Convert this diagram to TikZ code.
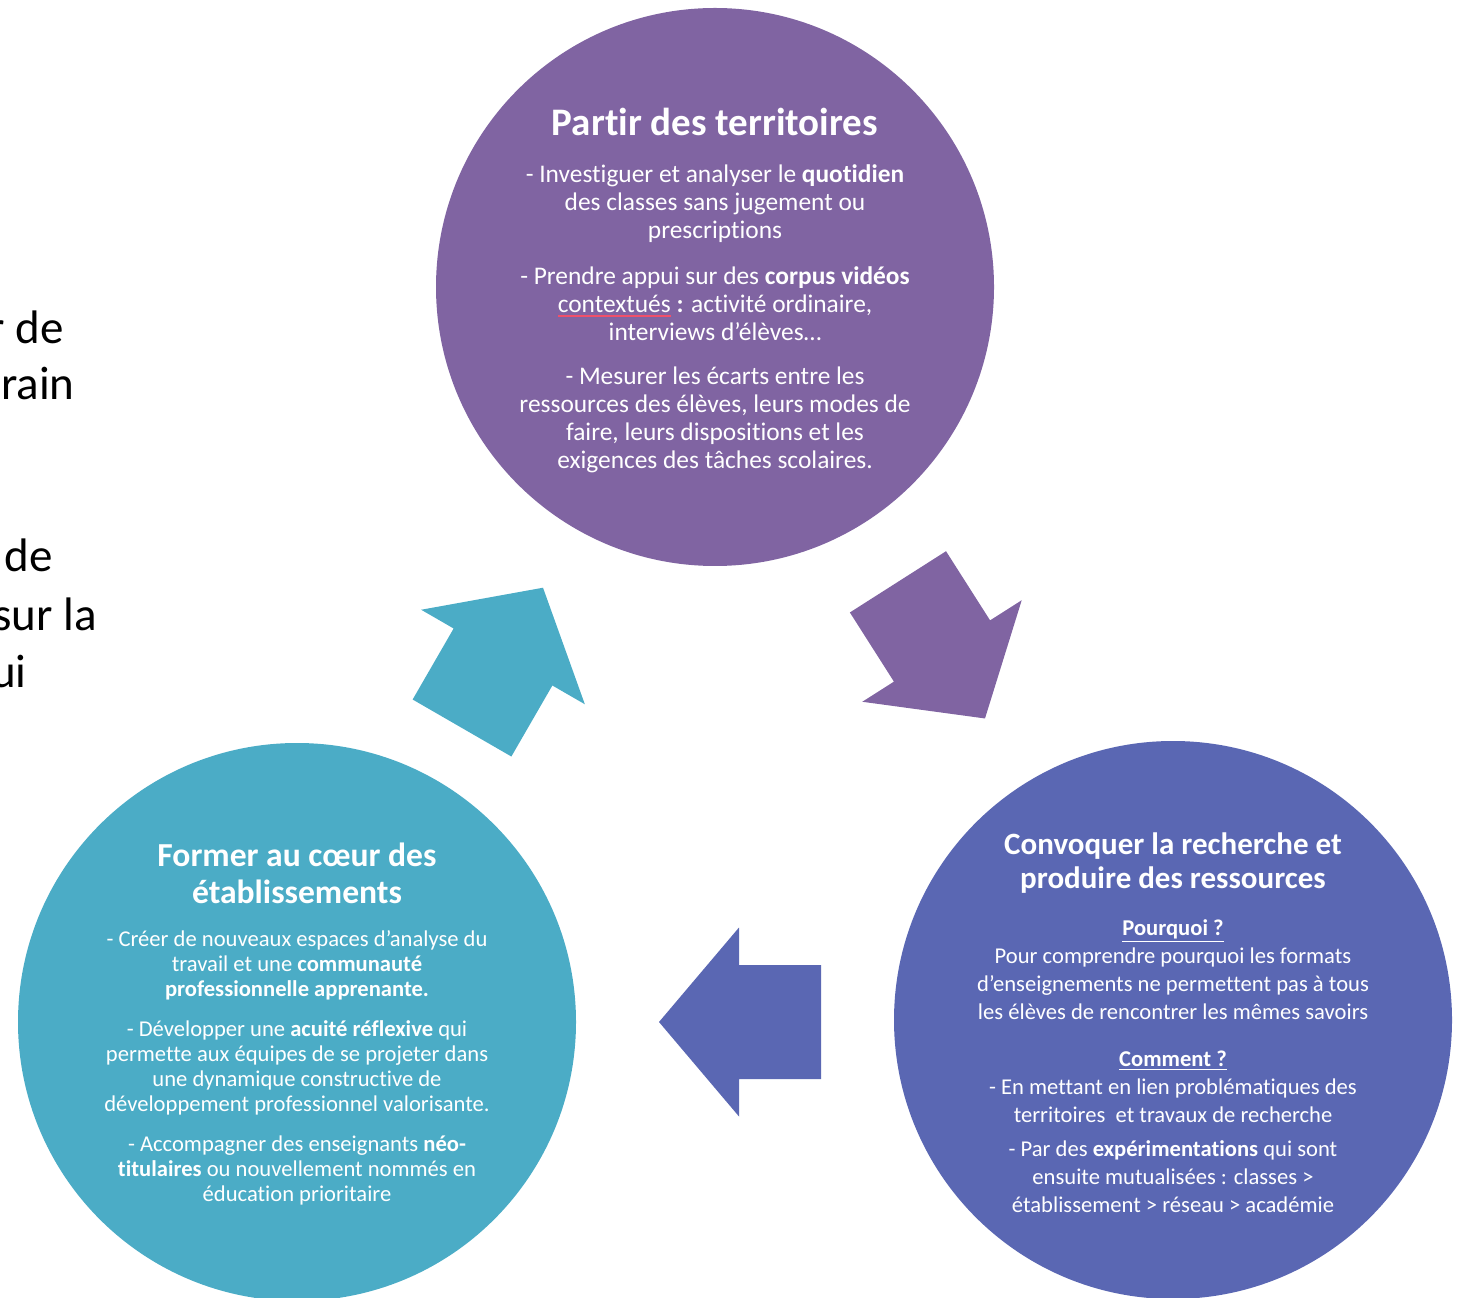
\documentclass[tikz,border=0pt]{standalone}
\usepackage{fontspec}
\setmainfont{Carlito}[Ligatures=NoCommon]
\usetikzlibrary{positioning}
\definecolor{partirc}{HTML}{8064A2}
\definecolor{formerc}{HTML}{4BACC6}
\definecolor{convoqc}{HTML}{5A67B3}
\definecolor{spellc}{HTML}{F0506A}
\newsavebox\spellbox
\newcommand{\spellmark}[1]{\sbox\spellbox{#1}\rlap{\textcolor{spellc}{\rule[-2.6pt]{\wd\spellbox}{1pt}}}\usebox\spellbox}
\begin{document}
\begin{tikzpicture}[x=0.5pt, y=0.5pt,
    rond/.style={circle, minimum size=279pt, inner sep=0pt},
    titre/.style={text=white, align=center, inner sep=0pt},
    corps/.style={text=white, align=center, inner sep=0pt, anchor=north},
    bout/.style={anchor=base east, inner sep=0pt, font=\fontsize{23.5}{28}\selectfont},
    blockarrow/.pic={\fill[#1] (-82,-57) -- (0,-57) -- (0,-94.5) -- (80,0) -- (0,94.5) -- (0,57) -- (-82,57) -- cycle;}]
    \useasboundingbox (0,0) rectangle (1460,1297);
    \clip (0,0) rectangle (1460,1297);
    % Cut text on the left
    \node[bout] (bout1) at (64,953) {r de};
    \node[bout] (bout2) at (75,897) {rain};
    \node[bout] (bout3) at (53,725) {de};
    \node[bout] (bout4) at (97,667) {sur la};
    \node[bout] (bout5) at (27,610) {ui};
    % Circles
    \node[rond, fill=partirc] (partir) at (715,1010) {};
    \node[rond, fill=formerc] (former) at (297,275) {};
    \node[rond, fill=convoqc] (convoq) at (1173,277) {};
    % Arrows
    \pic[rotate=-57.5] at (942,646) {blockarrow=partirc};
    \pic[rotate=180] at (739,275) {blockarrow=convoqc};
    \pic[rotate=60] at (503,640) {blockarrow=formerc};
    % Partir des territoires
    \node[titre, font=\fontsize{19.5}{22}\selectfont\bfseries] (partirT) at (715,1175) {Partir des territoires};
    \node[corps, font=\fontsize{12.7}{14}\selectfont] (partirB) at (715,1133) {%
        - Investiguer et analyser le \textbf{quotidien}\\ des classes sans jugement ou\\ prescriptions\\[9pt]
        - Prendre appui sur des \textbf{corpus vidéos}\\ \spellmark{contextués} \textbf{:} activité ordinaire,\\ interviews d’élèves…\\[8pt]
        - Mesurer les écarts entre les\\ ressources des élèves, leurs modes de\\ faire, leurs dispositions et les\\ exigences des tâches scolaires.};
    % Former au coeur des etablissements
    \node[titre, font=\fontsize{16.8}{18.5}\selectfont\bfseries] (formerT) at (297,424) {Former au cœur des\\ établissements};
    \node[corps, font=\fontsize{11.3}{12.5}\selectfont] (formerB) at (297,367) {%
        - Créer de nouveaux espaces d’analyse du\\ travail et une \textbf{communauté}\\ \textbf{professionnelle apprenante.}\\[7.5pt]
        - Développer une \textbf{acuité réflexive} qui\\ permette aux équipes de se projeter dans\\ une dynamique constructive de\\ développement professionnel valorisante.\\[7.5pt]
        - Accompagner des enseignants \textbf{néo-}\\ \textbf{titulaires} ou nouvellement nommés en\\ éducation prioritaire};
    % Convoquer la recherche
    \node[titre, font=\fontsize{15.5}{17}\selectfont\bfseries] (convoqT) at (1173,434) {Convoquer la recherche et\\ produire des ressources};
    \node[corps, font=\fontsize{11.3}{14}\selectfont] (convoqB) at (1173,378) {%
        \underline{\textbf{Pourquoi ?}}\\ Pour comprendre pourquoi les formats\\ d’enseignements ne permettent pas à tous\\ les élèves de rencontrer les mêmes savoirs\\[9.5pt]
        \underline{\textbf{Comment ?}}\\ - En mettant en lien problématiques des\\ territoires~~et travaux de recherche\\[3pt]
        - Par des \textbf{expérimentations} qui sont\\ ensuite mutualisées : classes >\\ établissement > réseau > académie};
\end{tikzpicture}
\end{document}
